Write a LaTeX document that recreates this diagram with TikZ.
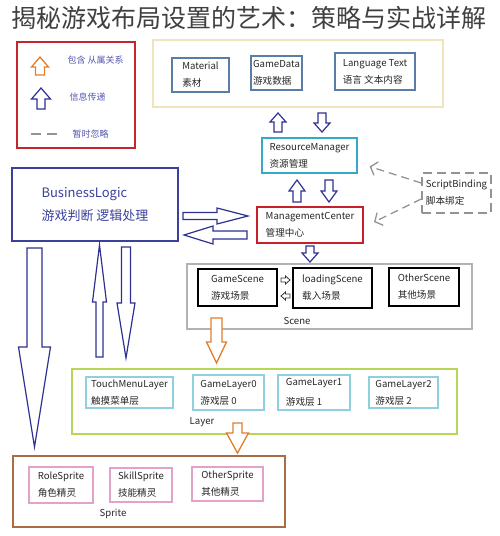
\documentclass[tikz,border=0pt]{standalone}
\usepackage{fontspec}
\setmainfont{Noto Sans CJK SC}
\usetikzlibrary{arrows.meta}
\usetikzlibrary{positioning}

\definecolor{navyarr}{HTML}{2E3192}
\definecolor{orangearr}{HTML}{E27D2C}
\definecolor{legendred}{HTML}{C4262E}
\definecolor{legendtxt}{HTML}{5257B0}
\definecolor{paleyel}{HTML}{EFE4BC}
\definecolor{steel}{HTML}{5A7DA5}
\definecolor{resblue}{HTML}{36A8C8}
\definecolor{mcred}{HTML}{C81F2A}
\definecolor{blblue}{HTML}{3B409C}
\definecolor{layergreen}{HTML}{B7D657}
\definecolor{layercyan}{HTML}{8ED0E0}
\definecolor{spritebrown}{HTML}{A96C45}
\definecolor{spritepink}{HTML}{E3A3C8}

% x, tail y, head base y, tip y, half shaft, half head, style
\newcommand{\vblk}[7]{\draw[#7] (#1-#5,#2) -- (#1+#5,#2) -- (#1+#5,#3) -- (#1+#6,#3) -- (#1,#4) -- (#1-#6,#3) -- (#1-#5,#3) -- cycle;}
% y, tail x, head base x, tip x, half shaft, half head, style
\newcommand{\hblk}[7]{\draw[#7] (#2,#1-#5) -- (#3,#1-#5) -- (#3,#1-#6) -- (#4,#1) -- (#3,#1+#6) -- (#3,#1+#5) -- (#2,#1+#5) -- cycle;}

\begin{document}
\begin{tikzpicture}[x=1pt,y=-1pt,
	box/.style={draw,rectangle,align=left,inner sep=2pt,line width=1.2pt,font=\fontsize{9.6}{17}\selectfont,text=black!85},
	grp/.style={draw,rectangle,inner sep=0pt,line width=1.3pt},
	lbl/.style={font=\fontsize{9.6}{11}\selectfont,text=black!85},
	lgd/.style={anchor=west,font=\fontsize{9}{10}\selectfont,text=legendtxt},
	blk/.style={draw=navyarr,line width=1.2pt,fill=white},
	oblk/.style={draw=orangearr,line width=1.3pt,fill=white},
	ignore/.style={draw=gray!85,dash pattern=on 8pt off 5pt,line width=1.3pt,-{Straight Barb[length=6pt,width=14pt]}}]
	\useasboundingbox (0,0) rectangle (500,536);
	
	\node[font=\fontsize{25}{28}\selectfont,text=black!75] (title) at (249,18) {揭秘游戏布局设置的艺术：策略与实战详解};
	
	\node[grp,draw=legendred,minimum width=118pt,minimum height=106pt] (legend) at (76,95) {};
	\node[lgd] (l1) at (64,60) {包含 从属关系};
	\node[lgd] (l2) at (66,97) {信息传递};
	\node[lgd] (l3) at (69,134) {暂时忽略};
	\coordinate (d1) at (31,134);
	\coordinate (d2) at (58,134);
	\draw[gray!85,line width=1.5pt,dash pattern=on 10pt off 6pt] (d1) -- (d2);
	\vblk{40}{75}{67}{57}{4.5}{8.5}{oblk}
	\vblk{41}{109}{99}{88}{4}{9.5}{blk}
	
	\node[grp,draw=paleyel,minimum width=290pt,minimum height=67pt] (data) at (298,73.5) {};
	\node[box,draw=steel,minimum width=57pt,minimum height=34pt] (mat) at (200.5,75) {Material\\素材};
	\node[box,draw=steel,minimum width=49pt,minimum height=34pt] (gdata) at (276.5,73) {GameData\\游戏数据};
	\node[box,draw=steel,minimum width=80pt,minimum height=37pt] (lang) at (375,71.5) {Language Text\\语言 文本内容};
	
	\node[box,draw=resblue,minimum width=95pt,minimum height=35pt] (rm) at (309.5,155.5) {ResourceManager\\资源管理};
	\node[box,draw=mcred,line width=2pt,minimum width=106pt,minimum height=36pt] (mc) at (310,225) {ManagementCenter\\管理中心};
	\node[box,draw=gray!85,dash pattern=on 9pt off 5pt,line width=1.5pt,minimum width=69pt,minimum height=40pt] (sb) at (456.5,193) {ScriptBinding\\脚本绑定};
	
	\node[box,draw=blblue,text=blblue,font=\fontsize{13}{23}\selectfont,minimum width=166pt,minimum height=73pt] (bl) at (95,204.5) {BusinessLogic\\游戏判断 逻辑处理};
	
	\node[grp,draw=gray!60,minimum width=285pt,minimum height=65pt] (scene) at (329.5,296.5) {};
	\node[box,line width=1.8pt,minimum width=79pt,minimum height=37pt] (gscene) at (237.5,287.5) {GameScene\\游戏场景};
	\node[box,line width=1.8pt,minimum width=79pt,minimum height=40pt] (lscene) at (332.5,288) {loadingScene\\载入场景};
	\node[box,line width=1.8pt,minimum width=70pt,minimum height=38pt] (oscene) at (424,287) {OtherScene\\其他场景};
	\node[lbl] (scenelbl) at (297,321) {Scene};
	
	\node[grp,draw=layergreen,minimum width=385pt,minimum height=65pt] (layer) at (264.5,401.5) {};
	\node[box,draw=layercyan,minimum width=87pt,minimum height=31pt] (touch) at (129.5,392.5) {TouchMenuLayer\\触摸菜单层};
	\node[box,draw=layercyan,minimum width=71pt,minimum height=35pt] (gl0) at (228.5,392.5) {GameLayer0\\游戏层 0};
	\node[box,draw=layercyan,minimum width=72pt,minimum height=35pt,font=\fontsize{9.6}{20}\selectfont] (gl1) at (314,392.5) {GameLayer1\\游戏层 1};
	\node[box,draw=layercyan,minimum width=69pt,minimum height=31pt] (gl2) at (403.5,392.5) {GameLayer2\\游戏层 2};
	\node[lbl] (layerlbl) at (202,422) {Layer};
	
	\node[grp,draw=spritebrown,minimum width=272pt,minimum height=71pt] (sprite) at (149,491.5) {};
	\node[box,draw=spritepink,minimum width=64pt,minimum height=36pt] (role) at (61,485) {RoleSprite\\角色精灵};
	\node[box,draw=spritepink,minimum width=62pt,minimum height=34pt] (skill) at (141,485) {SkillSprite\\技能精灵};
	\node[box,draw=spritepink,minimum width=71pt,minimum height=34pt] (osprite) at (227.5,484) {OtherSprite\\其他精灵};
	\node[lbl] (spritelbl) at (113,514) {Sprite};
	
	\vblk{278}{132}{122}{113}{4}{8}{blk}
	\vblk{322}{113}{123}{132}{4}{8}{blk}
	\vblk{297}{202}{191}{180}{4}{8}{blk}
	\vblk{329}{180}{191}{202}{4}{8}{blk}
	\vblk{310}{246}{253}{262}{4}{8}{blk}
	\hblk{216}{183}{217}{248}{3.5}{8}{blk}
	\hblk{235}{247}{213}{184}{4}{9}{blk}
	\vblk{34.5}{248}{347}{447}{7.5}{16}{blk}
	\vblk{99.5}{357}{302}{245}{3.5}{7}{blk}
	\vblk{126}{247}{303}{358}{4.5}{9}{blk}
	\hblk{280}{281}{285.5}{290}{2}{4}{draw=black!80,line width=0.8pt,fill=white}
	\hblk{296}{290}{285.5}{281}{2}{4}{draw=black!80,line width=0.8pt,fill=white}
	\vblk{216.5}{318}{342}{363}{5.5}{10}{oblk}
	\vblk{237.5}{423}{433}{453}{4.5}{11}{oblk}
	
	\draw[ignore] ([yshift=10pt]sb.west) -- ([xshift=12pt,yshift=-11pt]rm.east);
	\draw[ignore] ([yshift=-6pt]sb.west) -- ([xshift=10pt,yshift=3pt]mc.east);
\end{tikzpicture}
\end{document}
